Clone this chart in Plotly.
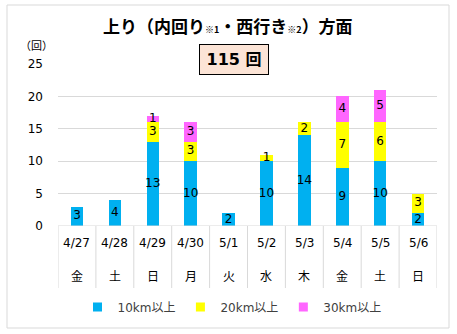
import plotly.graph_objects as go

dates = ["4/27", "4/28", "4/29", "4/30", "5/1", "5/2", "5/3", "5/4", "5/5", "5/6"]
days = ["金", "土", "日", "月", "火", "水", "木", "金", "土", "日"]
s10 = [3, 4, 13, 10, 2, 10, 14, 9, 10, 2]
s20 = [0, 0, 3, 3, 0, 1, 2, 7, 6, 3]
s30 = [0, 0, 1, 3, 0, 0, 0, 4, 5, 0]
names = ["10km以上", "20km以上", "30km以上"]
colors = ["#00B0F0", "#FFFF00", "#FF66FF"]
total_label = "115 回"
yticks = [0, 5, 10, 15, 20, 25]

FONT = "Verdana, DejaVu Sans, Noto Sans CJK JP"
JP = "Noto Sans CJK JP"

L, R, T, B = 58, 20, 64, 108
W, H = 457, 334
pw, ph = W - L - R, H - T - B

def px(x):
    return (x - L) / pw

def py(y):
    return (H - B - y) / ph

xs = list(range(len(dates)))
fig = go.Figure()
series = [s10, s20, s30]
for vals, name, col in zip(series, names, colors):
    fig.add_trace(go.Bar(x=xs, y=vals, name=name, marker=dict(color=col, line=dict(width=0)),
                         width=0.33, hoverinfo="skip", showlegend=False))

# data labels at segment centers
base = [0] * len(xs)
for vals in series:
    tx, ty, tt = [], [], []
    for i, v in enumerate(vals):
        if v > 0:
            tx.append(i)
            ty.append(base[i] + v / 2)
            tt.append(str(v))
        base[i] += v
    fig.add_trace(go.Scatter(x=tx, y=ty, text=tt, mode="text", showlegend=False,
                             textfont=dict(family=FONT, size=12, color="#000000"),
                             hoverinfo="skip"))

# legend entries (small squares like the reference)
for name, col in zip(names, colors):
    fig.add_trace(go.Scatter(x=[None], y=[None], mode="markers", name=name,
                             marker=dict(symbol="square", size=9, color=col), hoverinfo="skip"))

shapes = []
shapes.append(dict(type="rect", xref="paper", yref="paper", x0=px(7), x1=px(449), y0=py(328), y1=py(5),
                   line=dict(color="#D9D9D9", width=1), layer="below"))
for i in range(len(dates) + 1):
    shapes.append(dict(type="line", xref="x", yref="paper", x0=i - 0.5, x1=i - 0.5, y0=0, y1=py(288),
                       line=dict(color="#D9D9D9", width=1)))
shapes.append(dict(type="line", xref="paper", yref="y", x0=0, x1=1, y0=0, y1=0,
                   line=dict(color="#D9D9D9", width=1)))

def ann(**kw):
    kw.setdefault("showarrow", False)
    kw.setdefault("xanchor", "center")
    kw.setdefault("yanchor", "middle")
    return kw

annotations = []
for i, (d, w) in enumerate(zip(dates, days)):
    annotations.append(ann(x=i, y=py(243), xref="x", yref="paper", text=d,
                           font=dict(family=FONT, size=12, color="#000000")))
    annotations.append(ann(x=i, y=py(275), xref="x", yref="paper", text=w,
                           font=dict(family=JP, size=12, color="#000000")))
annotations.append(ann(x=px(228), y=py(25), xref="paper", yref="paper",
                       text="<b>上り（内回り<span style='font-size:9px'>※1</span>・西行き<span style='font-size:9px'>※2</span>）方面</b>",
                       font=dict(family=JP, size=17, color="#000000")))
annotations.append(ann(x=px(233.5), y=py(59), xref="paper", yref="paper",
                       text="<b>" + total_label + "</b>", bgcolor="#FCE4D6", bordercolor="#000000",
                       borderwidth=1, borderpad=5, width=58,
                       font=dict(family=FONT, size=16, color="#000000")))
annotations.append(ann(x=px(36), y=py(45), xref="paper", yref="paper",
                       text="（回）", font=dict(family=JP, size=11, color="#000000")))

fig.update_layout(
    width=W, height=H, margin=dict(l=L, r=R, t=T, b=B),
    paper_bgcolor="white", plot_bgcolor="white",
    barmode="stack", bargap=0.67,
    font=dict(family=FONT, size=12, color="#000000"),
    xaxis=dict(range=[-0.5, len(dates) - 0.5], showticklabels=False, showgrid=False,
               zeroline=False, fixedrange=True),
    yaxis=dict(range=[0, 25], tickvals=yticks, showgrid=True, gridcolor="#D9D9D9", gridwidth=1,
               zeroline=False, ticks="", tickfont=dict(family=FONT, size=12, color="#000000"),
               ticklabelstandoff=14),
    legend=dict(orientation="h", x=px(232), xanchor="center", y=py(307), yanchor="middle",
                font=dict(family=FONT, size=12, color="#404040"), itemwidth=30,
                traceorder="normal", itemclick=False),
    shapes=shapes, annotations=annotations, showlegend=True,
)
fig.write_html("out.html")
